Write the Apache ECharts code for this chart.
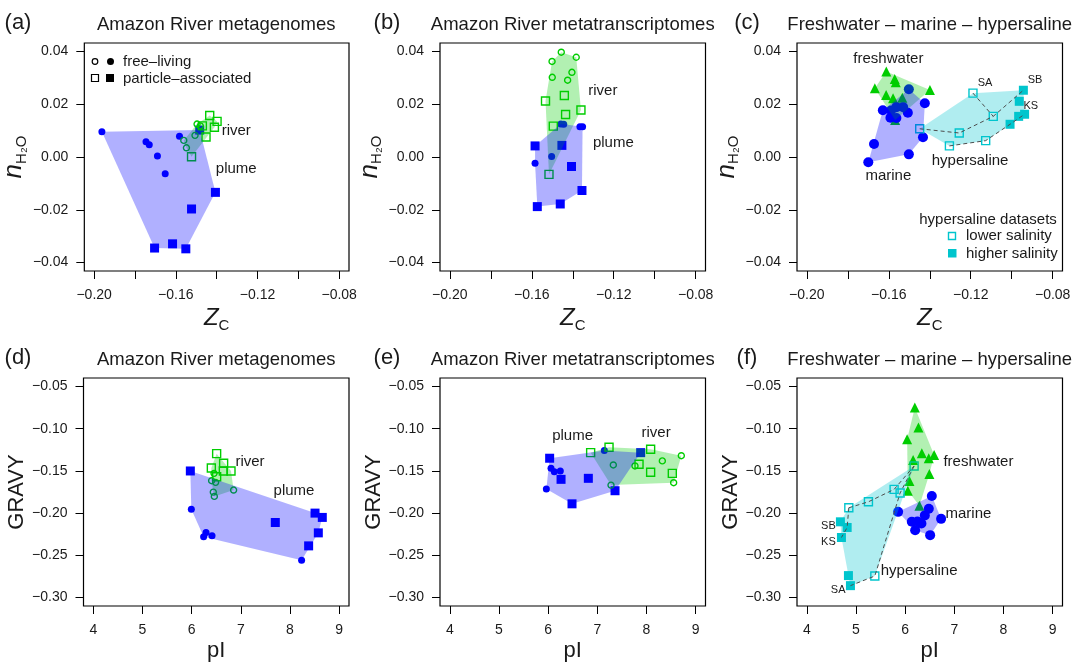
<!DOCTYPE html>
<html>
<head>
<meta charset="utf-8">
<script src="https://cdn.jsdelivr.net/npm/echarts@6/dist/echarts.min.js"></script>
<style>
html, body { margin: 0; background: #fff; }
#main { width: 1075px; height: 668px; }
</style>
</head>
<body>
<div id="main"></div>
<script>
// tick values
var zcTicks = [-0.20, -0.18, -0.16, -0.14, -0.12, -0.10, -0.08];
var zcLabels = [-0.20, -0.16, -0.12, -0.08];
var nh2oTicks = [-0.04, -0.02, 0, 0.02, 0.04];
var piTicks = [4, 5, 6, 7, 8, 9];
var gravyTicks = [-0.30, -0.25, -0.20, -0.15, -0.10, -0.05];

// (a) Amazon River metagenomes, Zc vs nH2O
var aPlumeFL = [[-0.1962, 0.0096], [-0.1746, 0.0058], [-0.1730, 0.0046], [-0.1690, 0.0004], [-0.1652, -0.0063], [-0.1582, 0.0079]];
var aPlumePA = [[-0.1483, 0.0102], [-0.1406, -0.0134], [-0.1523, -0.0197], [-0.1704, -0.0345], [-0.1616, -0.0329], [-0.1551, -0.0348]];
var aRiverFL = [[-0.1496, 0.0125], [-0.1480, 0.0118], [-0.1506, 0.0082], [-0.1561, 0.0063], [-0.1548, 0.0035]];
var aRiverPA = [[-0.1434, 0.0157], [-0.1398, 0.0135], [-0.1411, 0.0113], [-0.1452, 0.0076], [-0.1470, 0.0118], [-0.1523, 0.0001]];

// (b) Amazon River metatranscriptomes
var bRiverFL = [[-0.1456, 0.0397], [-0.1501, 0.0362], [-0.1383, 0.0378], [-0.1404, 0.0321], [-0.1500, 0.0302], [-0.1425, 0.0291]];
var bRiverPA = [[-0.1533, 0.0212], [-0.1441, 0.0233], [-0.1360, 0.0178], [-0.1435, 0.0161], [-0.1495, 0.0117], [-0.1516, -0.0066]];
var bPlumeFL = [[-0.1458, 0.0125], [-0.1444, 0.0124], [-0.1365, 0.0115], [-0.1352, 0.0115], [-0.1503, 0.0002], [-0.1584, -0.0024]];
var bPlumePA = [[-0.1584, 0.0042], [-0.1453, 0.0044], [-0.1406, -0.0036], [-0.1355, -0.0127], [-0.1461, -0.0178], [-0.1573, -0.0188]];

// (c) freshwater - marine - hypersaline
var cFresh = [[-0.1612, 0.0324], [-0.1571, 0.0296], [-0.1566, 0.0283], [-0.1668, 0.0261], [-0.1399, 0.0254], [-0.1613, 0.0235], [-0.1579, 0.0223], [-0.1534, 0.0225], [-0.1569, 0.0140]];
var cMarine = [[-0.1502, 0.0257], [-0.1424, 0.0204], [-0.1629, 0.0177], [-0.1589, 0.0176], [-0.1563, 0.0189], [-0.1530, 0.0189], [-0.1507, 0.0168], [-0.1592, 0.0149], [-0.1563, 0.0148], [-0.1433, 0.0075], [-0.1672, 0.0049], [-0.1502, 0.0010], [-0.1700, -0.0020]];
var cHyperLow = [[-0.1189, 0.0242], [-0.1090, 0.0154], [-0.1449, 0.0107], [-0.1256, 0.0091], [-0.1127, 0.0062], [-0.1304, 0.0042]];
var cHyperHigh = [[-0.0943, 0.0253], [-0.0963, 0.0211], [-0.0937, 0.0162], [-0.0966, 0.0154], [-0.1008, 0.0124]];
// dashed salinity gradients: ["L"|"H", index]
var cChains = [
  [["L", 2], ["L", 3], ["L", 1], ["H", 0]],
  [["L", 0], ["L", 1]],
  [["L", 5], ["L", 4], ["H", 4], ["H", 2]]
];

// (d) metagenomes, pI vs GRAVY
var dPlumePA = [[5.973, -0.1501], [8.509, -0.2000], [8.657, -0.2051], [7.701, -0.2111], [8.576, -0.2234], [8.379, -0.2388]];
var dPlumeFL = [[5.993, -0.1953], [6.292, -0.2229], [6.243, -0.2281], [6.414, -0.2269], [8.236, -0.2558]];
var dRiverPA = [[6.508, -0.1296], [6.650, -0.1410], [6.400, -0.1466], [6.644, -0.1501], [6.800, -0.1501], [6.508, -0.1569]];
var dRiverFL = [[6.455, -0.1529], [6.406, -0.1616], [6.487, -0.1636], [6.853, -0.1727], [6.440, -0.1751], [6.461, -0.1802]];

// (e) metatranscriptomes
var ePlumePA = [[6.030, -0.1350], [6.262, -0.1600], [6.817, -0.1588], [6.485, -0.1890], [7.360, -0.1735], [7.881, -0.1284]];
var ePlumeFL = [[6.058, -0.1469], [6.125, -0.1509], [6.247, -0.1501], [5.963, -0.1715], [7.142, -0.1260]];
var eRiverPA = [[6.864, -0.1284], [7.238, -0.1220], [8.084, -0.1244], [7.848, -0.1422], [8.084, -0.1517], [8.525, -0.1529]];
var eRiverFL = [[7.325, -0.1430], [7.278, -0.1668], [7.766, -0.1442], [8.322, -0.1382], [8.708, -0.1320], [8.552, -0.1640]];

// (f) freshwater - marine - hypersaline
var fFresh = [[6.196, -0.0750], [6.270, -0.0987], [6.040, -0.1125], [6.339, -0.1290], [6.589, -0.1311], [6.480, -0.1350], [6.162, -0.1370], [6.493, -0.1537], [6.087, -0.1620], [6.054, -0.1735], [6.290, -0.1913]];
var fMarine = [[6.542, -0.1798], [5.857, -0.1985], [6.481, -0.1949], [6.400, -0.2027], [6.731, -0.2068], [6.135, -0.2103], [6.331, -0.2122], [6.203, -0.2202], [6.508, -0.2261], [6.250, -0.2100]];
var fHyperLow = [[4.854, -0.1937], [5.253, -0.1866], [5.775, -0.1719], [5.897, -0.1762], [6.182, -0.1442], [5.383, -0.2745]];
var fHyperHigh = [[4.683, -0.2103], [4.820, -0.2170], [4.704, -0.2289], [4.846, -0.2740], [4.887, -0.2859]];
var fChains = [
  [["L", 0], ["L", 1], ["L", 2], ["L", 4]],
  [["L", 4], ["L", 3], ["L", 5], ["H", 4]],
  [["L", 0], ["H", 1], ["H", 2]]
];

// group labels: [panel, x, y, text, size]
var groupLabels = [
  [0, -0.1304, 0.0099, "river", 15], [0, -0.1304, -0.0046, "plume", 15],
  [1, -0.1253, 0.0250, "river", 15], [1, -0.1202, 0.0052, "plume", 15],
  [2, -0.1602, 0.0371, "freshwater", 15], [2, -0.1602, -0.0071, "marine", 15], [2, -0.1203, -0.0015, "hypersaline", 15],
  [2, -0.1130, 0.0282, "SA", 11], [2, -0.0886, 0.0292, "SB", 11], [2, -0.0907, 0.0193, "KS", 11],
  [3, 7.187, -0.1398, "river", 15], [3, 8.082, -0.1735, "plume", 15],
  [4, 6.497, -0.1082, "plume", 15], [4, 8.194, -0.1053, "river", 15],
  [5, 7.490, -0.1398, "freshwater", 15], [5, 7.287, -0.2004, "marine", 15], [5, 6.284, -0.2685, "hypersaline", 15],
  [5, 4.439, -0.2154, "SB", 11], [5, 4.439, -0.2341, "KS", 11], [5, 4.637, -0.2915, "SA", 11]
];

var BLUE = "#0000ff", GREEN = "#00cd00", CYAN = "#00c5cd";
var FONT = "Liberation Sans, Arial, Helvetica, sans-serif";
var gridLeft = [83.5, 440, 797, 83.5, 440, 797];
var gridTop = [43, 43, 43, 378, 378, 378];

function convexHull(pts) {
  var p = pts.slice().sort(function (a, b) { return a[0] - b[0] || a[1] - b[1]; });
  function cross(o, a, b) { return (a[0] - o[0]) * (b[1] - o[1]) - (a[1] - o[1]) * (b[0] - o[0]); }
  var lower = [], upper = [];
  for (var i = 0; i < p.length; i++) {
    while (lower.length >= 2 && cross(lower[lower.length - 2], lower[lower.length - 1], p[i]) <= 0) lower.pop();
    lower.push(p[i]);
  }
  for (var j = p.length - 1; j >= 0; j--) {
    while (upper.length >= 2 && cross(upper[upper.length - 2], upper[upper.length - 1], p[j]) <= 0) upper.pop();
    upper.push(p[j]);
  }
  upper.pop(); lower.pop();
  return lower.concat(upper);
}

function fmt2(v) {
  return (v < -1e-9 ? "\u2212" : "") + Math.abs(v).toFixed(2);
}

var series = [];

function pts(idx, data, shape, color, size, open) {
  series.push({
    type: "scatter", xAxisIndex: idx, yAxisIndex: idx, z: 2, silent: true,
    symbol: shape, symbolSize: size, data: data,
    itemStyle: open ? { color: "rgba(0,0,0,0)", borderColor: color, borderWidth: 1.4, opacity: 1 } : { color: color, opacity: 1 }
  });
}

function hull(idx, data, fill, z) {
  var h = convexHull(data);
  series.push({
    type: "custom", xAxisIndex: idx, yAxisIndex: idx, z: z, silent: true,
    data: [h[0]],
    renderItem: function (params, api) {
      return { type: "polygon", shape: { points: h.map(function (d) { return api.coord(d); }) }, style: { fill: fill } };
    }
  });
}

function chains(idx, low, high, list) {
  list.forEach(function (ch) {
    series.push({
      type: "line", xAxisIndex: idx, yAxisIndex: idx, z: 6, silent: true, symbol: "none",
      lineStyle: { color: "#4d4d4d", width: 1, type: [4, 3] },
      data: ch.map(function (c) { return c[0] === "L" ? low[c[1]] : high[c[1]]; })
    });
  });
}

var GFILL = "rgba(0,205,0,0.30)", BFILL = "rgba(0,0,255,0.31)", CFILL = "rgba(0,197,205,0.31)";

// (a)
pts(0, aPlumeFL, "circle", BLUE, 7, false);
pts(0, aPlumePA, "rect", BLUE, 9, false);
pts(0, aRiverFL, "circle", GREEN, 6, true);
pts(0, aRiverPA, "rect", GREEN, 8, true);
hull(0, aRiverFL.concat(aRiverPA), GFILL, 3);
hull(0, aPlumeFL.concat(aPlumePA), BFILL, 4);
// (b)
pts(1, bPlumeFL, "circle", BLUE, 7, false);
pts(1, bPlumePA, "rect", BLUE, 9, false);
pts(1, bRiverFL, "circle", GREEN, 6, true);
pts(1, bRiverPA, "rect", GREEN, 8, true);
hull(1, bRiverFL.concat(bRiverPA), GFILL, 3);
hull(1, bPlumeFL.concat(bPlumePA), BFILL, 4);
// (c)
pts(2, cFresh, "triangle", GREEN, 10, false);
pts(2, cMarine, "circle", BLUE, 10, false);
pts(2, cHyperLow, "rect", CYAN, 8, true);
pts(2, cHyperHigh, "rect", CYAN, 9, false);
hull(2, cFresh, GFILL, 3);
hull(2, cHyperLow.concat(cHyperHigh), CFILL, 3);
hull(2, cMarine, BFILL, 4);
chains(2, cHyperLow, cHyperHigh, cChains);
// (d)
pts(3, dPlumeFL, "circle", BLUE, 7, false);
pts(3, dPlumePA, "rect", BLUE, 9, false);
pts(3, dRiverFL, "circle", GREEN, 6, true);
pts(3, dRiverPA, "rect", GREEN, 8, true);
hull(3, dRiverFL.concat(dRiverPA), GFILL, 3);
hull(3, dPlumeFL.concat(dPlumePA), BFILL, 4);
// (e)
pts(4, ePlumeFL, "circle", BLUE, 7, false);
pts(4, ePlumePA, "rect", BLUE, 9, false);
pts(4, eRiverFL, "circle", GREEN, 6, true);
pts(4, eRiverPA, "rect", GREEN, 8, true);
hull(4, eRiverFL.concat(eRiverPA), GFILL, 3);
hull(4, ePlumeFL.concat(ePlumePA), BFILL, 4);
// (f)
pts(5, fFresh, "triangle", GREEN, 10, false);
pts(5, fMarine, "circle", BLUE, 10, false);
pts(5, fHyperLow, "rect", CYAN, 8, true);
pts(5, fHyperHigh, "rect", CYAN, 9, false);
hull(5, fFresh, GFILL, 3);
hull(5, fHyperLow.concat(fHyperHigh), CFILL, 3);
hull(5, fMarine, BFILL, 4);
chains(5, fHyperLow, fHyperHigh, fChains);

// text labels in data coordinates
for (var p = 0; p < 6; p++) {
  var lab = groupLabels.filter(function (g) { return g[0] === p; });
  series.push({
    type: "scatter", xAxisIndex: p, yAxisIndex: p, z: 8, silent: true, symbolSize: 0,
    itemStyle: { opacity: 1 },
    data: lab.map(function (g) { return { value: [g[1], g[2]], name: g[3], label: { fontSize: g[4] } }; }),
    label: { show: true, position: "inside", color: "#1a1a1a", fontFamily: FONT, formatter: "{b}" }
  });
}

var grids = [], xAxes = [], yAxes = [];
for (var i = 0; i < 6; i++) {
  var isTop = i < 3;
  grids.push({ left: gridLeft[i], top: gridTop[i], width: 265.5, height: 228, show: true, borderColor: "#000", borderWidth: 1.2, backgroundColor: "rgba(0,0,0,0)", containLabel: false });
  xAxes.push({
    type: "value", gridIndex: i, position: "bottom",
    min: isTop ? -0.2048 : 3.8, max: isTop ? -0.0752 : 9.2,
    splitLine: { show: false }, axisLine: { show: false, onZero: false },
    axisTick: { show: true, inside: false, length: 8, lineStyle: { color: "#000", width: 1 }, customValues: isTop ? zcTicks : piTicks },
    axisLabel: {
      show: true, margin: 17, fontSize: 14, color: "#1a1a1a", fontFamily: FONT,
      customValues: isTop ? zcLabels : piTicks,
      formatter: isTop ? fmt2 : function (v) { return String(Math.round(v)); }
    },
    name: isTop ? "{z|Z}{c|C}" : "pI",
    nameLocation: "middle", nameGap: isTop ? 32 : 34,
    nameTextStyle: isTop ? {
      fontFamily: FONT, color: "#1a1a1a",
      rich: {
        z: { fontSize: 24, fontStyle: "italic", fontFamily: FONT, lineHeight: 30, color: "#1a1a1a" },
        c: { fontSize: 15, verticalAlign: "bottom", lineHeight: 15, fontFamily: FONT, color: "#1a1a1a" }
      }
    } : { fontSize: 22, fontFamily: FONT, color: "#1a1a1a" }
  });
  yAxes.push({
    type: "value", gridIndex: i, position: "left",
    min: isTop ? -0.0432 : -0.31, max: isTop ? 0.0432 : -0.04,
    splitLine: { show: false }, axisLine: { show: false, onZero: false },
    axisTick: { show: true, inside: false, length: 8, lineStyle: { color: "#000", width: 1 }, customValues: isTop ? nh2oTicks : gravyTicks },
    axisLabel: {
      show: true, margin: 16, fontSize: 14, color: "#1a1a1a", fontFamily: FONT,
      customValues: isTop ? nh2oTicks : gravyTicks,
      formatter: fmt2
    },
    name: isTop ? "{n|n}{s|H\u2082O}" : "GRAVY",
    nameLocation: "middle", nameRotate: 90, nameGap: isTop ? 45 : 48,
    nameTextStyle: isTop ? {
      fontFamily: FONT, color: "#1a1a1a",
      rich: {
        n: { fontSize: 26, fontStyle: "italic", fontFamily: FONT, lineHeight: 30, color: "#1a1a1a" },
        s: { fontSize: 15, verticalAlign: "bottom", lineHeight: 15, fontFamily: FONT, color: "#1a1a1a" }
      }
    } : { fontSize: 22, fontFamily: FONT, color: "#1a1a1a" }
  });
}

// titles and panel letters
var titles = ["Amazon River metagenomes", "Amazon River metatranscriptomes", "Freshwater \u2013 marine \u2013 hypersaline"];
var letters = ["(a)", "(b)", "(c)", "(d)", "(e)", "(f)"];
var letterX = [18, 387, 747];
var graphics = [];
for (var k = 0; k < 6; k++) {
  var col = k % 3;
  graphics.push({ type: "text", silent: true, style: { text: titles[col], x: gridLeft[k] + 132.75, y: gridTop[k] - 18, align: "center", verticalAlign: "middle", fontSize: 18.5, fontFamily: FONT, fill: "#1a1a1a" } });
  graphics.push({ type: "text", silent: true, style: { text: letters[k], x: letterX[col], y: gridTop[k] - 20, align: "center", verticalAlign: "middle", fontSize: 22, fontFamily: FONT, fill: "#1a1a1a" } });
}
// legend in (a)
graphics.push({ type: "circle", silent: true, shape: { cx: 95, cy: 61.5, r: 2.8 }, style: { fill: "none", stroke: "#000", lineWidth: 1.2 } });
graphics.push({ type: "circle", silent: true, shape: { cx: 110.5, cy: 61.5, r: 3.5 }, style: { fill: "#000" } });
graphics.push({ type: "rect", silent: true, shape: { x: 91.5, y: 74.5, width: 7, height: 7 }, style: { fill: "none", stroke: "#000", lineWidth: 1.2 } });
graphics.push({ type: "rect", silent: true, shape: { x: 106, y: 74, width: 8, height: 8 }, style: { fill: "#000" } });
graphics.push({ type: "text", silent: true, style: { text: "free\u2013living", x: 123, y: 61.5, verticalAlign: "middle", fontSize: 15, fontFamily: FONT, fill: "#1a1a1a" } });
graphics.push({ type: "text", silent: true, style: { text: "particle\u2013associated", x: 123, y: 78.5, verticalAlign: "middle", fontSize: 15, fontFamily: FONT, fill: "#1a1a1a" } });
// legend in (c)
graphics.push({ type: "text", silent: true, style: { text: "hypersaline datasets", x: 988, y: 219.5, align: "center", verticalAlign: "middle", fontSize: 15, fontFamily: FONT, fill: "#1a1a1a" } });
graphics.push({ type: "rect", silent: true, shape: { x: 948.5, y: 232.5, width: 7, height: 7 }, style: { fill: "none", stroke: CYAN, lineWidth: 1.4 } });
graphics.push({ type: "rect", silent: true, shape: { x: 948, y: 249, width: 8.5, height: 8.5 }, style: { fill: CYAN } });
graphics.push({ type: "text", silent: true, style: { text: "lower salinity", x: 966, y: 236, verticalAlign: "middle", fontSize: 15, fontFamily: FONT, fill: "#1a1a1a" } });
graphics.push({ type: "text", silent: true, style: { text: "higher salinity", x: 966, y: 253.5, verticalAlign: "middle", fontSize: 15, fontFamily: FONT, fill: "#1a1a1a" } });

var chart = echarts.init(document.getElementById("main"), null, { renderer: "canvas" });
chart.setOption({
  animation: false,
  backgroundColor: "#fff",
  textStyle: { fontFamily: FONT },
  grid: grids,
  xAxis: xAxes,
  yAxis: yAxes,
  series: series,
  graphic: graphics
});
</script>
</body>
</html>
